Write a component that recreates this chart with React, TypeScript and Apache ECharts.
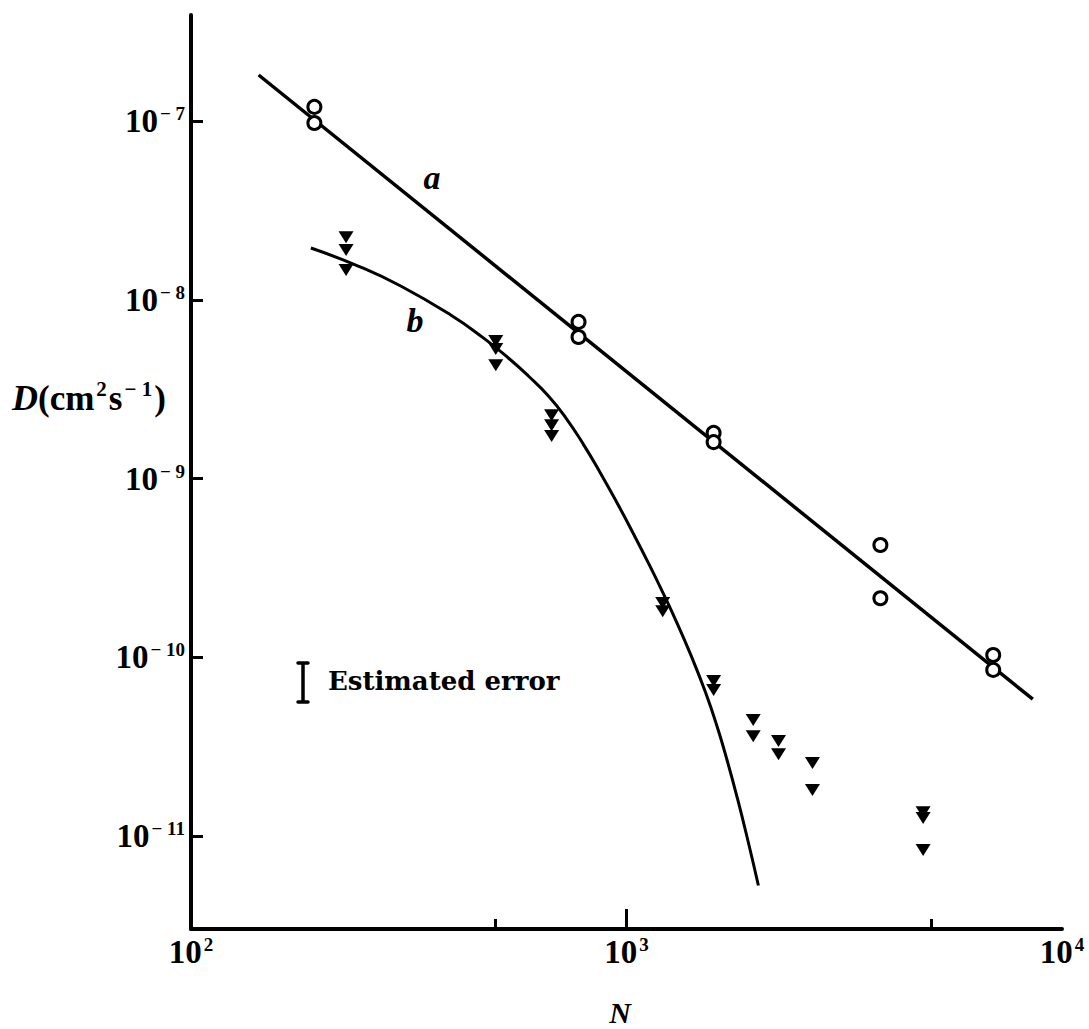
import React, { useEffect, useRef } from "react";
import * as echarts from "echarts";

// Straight line a (log-log), endpoints
const lineAN = [143, 8570];
const lineAD = [1.81e-7, 5.83e-11];

// Curve b
const curveBN = [188.5, 242.8, 303.1, 394.8, 467.5, 536.3, 596.1, 662.5, 724.8, 796.9, 871.6, 953.7, 1037.7, 1135.1, 1215.9, 1295.5, 1402.5, 1518.4, 1617.8, 1704.7, 1797.1, 1894.5, 2008.5];
const curveBD = [1.948e-8, 1.54e-8, 1.194e-8, 8.22e-9, 6.16e-9, 4.71e-9, 3.735e-9, 2.887e-9, 2.194e-9, 1.549e-9, 1.072e-9, 7.23e-10, 4.905e-10, 3.194e-10, 2.265e-10, 1.624e-10, 1.041e-10, 6.37e-11, 4.035e-11, 2.621e-11, 1.628e-11, 9.72e-12, 5.29e-12];

// Open circles (series a)
const circleN = [192, 192, 776, 776, 1585, 1585, 3828, 3828, 6951, 6951];
const circleD = [1.2e-7, 9.75e-8, 7.52e-9, 6.19e-9, 1.8e-9, 1.6e-9, 4.25e-10, 2.14e-10, 1.03e-10, 8.5e-11];

// Filled triangles (series b)
const triN = [227, 227, 227, 501, 501, 501, 673, 673, 673, 1211, 1211, 1585, 1585, 1954, 1954, 2234, 2234, 2673, 2673, 4798, 4798, 4798];
const triD = [2.24e-8, 1.9e-8, 1.47e-8, 5.88e-9, 5.3e-9, 4.31e-9, 2.26e-9, 1.99e-9, 1.73e-9, 2.01e-10, 1.81e-10, 7.36e-11, 6.56e-11, 4.46e-11, 3.62e-11, 3.4e-11, 2.87e-11, 2.56e-11, 1.81e-11, 1.36e-11, 1.26e-11, 8.36e-12];

// Axis ticks
const xLabelValues = [100, 1000, 10000];
const xMajorTicks = [1000];
const xMinorTicks = [500, 5000];
const yTickValues = [1e-7, 1e-8, 1e-9, 1e-10, 1e-11];

const X_MIN = 100;
const X_MAX = 10000;
const Y_MIN = 3.02e-12;
const Y_MAX = 3.92e-7;

const FONT = "Liberation Serif";

function zip(a: number[], b: number[]) {
  return a.map((v, i) => [v, b[i]]);
}

export default function App() {
  const ref = useRef<HTMLDivElement>(null);
  useEffect(() => {
    if (!ref.current) return;
    const chart = echarts.init(ref.current, undefined, { renderer: "svg" });
    const expRich = {
      b: { fontFamily: FONT, fontWeight: "bold", fontSize: 33, color: "#000", lineHeight: 34 },
      s: { fontFamily: FONT, fontWeight: "bold", fontSize: 19, color: "#000", verticalAlign: "top", lineHeight: 34, padding: [0, 0, 8, 2] },
    };
    chart.setOption({
      animation: false,
      backgroundColor: "#fff",
      grid: { left: 191, right: 27, top: 15, bottom: 100, containLabel: false },
      xAxis: [
        {
          type: "log",
          logBase: 10,
          min: X_MIN,
          max: X_MAX,
          axisLine: { show: true, lineStyle: { color: "#000", width: 4, cap: "round" } },
          axisTick: { show: true, inside: true, length: 20, customValues: xMajorTicks, lineStyle: { color: "#000", width: 3 } },
          axisLabel: {
            show: true,
            customValues: xLabelValues,
            margin: 6,
            formatter: (v: number) => `{b|10}{s|${Math.round(Math.log10(v))}}`,
            rich: expRich,
          },
          splitLine: { show: false },
          minorTick: { show: false },
        },
        {
          type: "log",
          logBase: 10,
          min: X_MIN,
          max: X_MAX,
          position: "bottom",
          axisLine: { show: false },
          axisTick: { show: true, inside: true, length: 10, customValues: xMinorTicks, lineStyle: { color: "#000", width: 3 } },
          axisLabel: { show: false },
          splitLine: { show: false },
        },
      ],
      yAxis: {
        type: "log",
        logBase: 10,
        min: Y_MIN,
        max: Y_MAX,
        axisLine: { show: true, lineStyle: { color: "#000", width: 4, cap: "round" } },
        axisTick: { show: true, inside: true, length: 12, customValues: yTickValues, lineStyle: { color: "#000", width: 3 } },
        axisLabel: {
          show: true,
          customValues: yTickValues,
          margin: 6,
          formatter: (v: number) => `{b|10}{s|− ${-Math.round(Math.log10(v))}}`,
          rich: expRich,
        },
        splitLine: { show: false },
      },
      series: [
        {
          type: "line",
          data: zip(lineAN, lineAD),
          showSymbol: false,
          symbol: "none",
          lineStyle: { color: "#000", width: 3.5 },
          z: 2,
        },
        {
          type: "line",
          data: zip(curveBN, curveBD),
          showSymbol: false,
          symbol: "none",
          smooth: 0.5,
          lineStyle: { color: "#000", width: 3 },
          z: 2,
        },
        {
          type: "scatter",
          data: zip(circleN, circleD),
          symbol: "circle",
          symbolSize: 13,
          itemStyle: { color: "#fff", borderColor: "#000", borderWidth: 3, opacity: 1 },
          z: 3,
        },
        {
          type: "scatter",
          data: zip(triN, triD),
          symbol: "triangle",
          symbolRotate: 180,
          symbolSize: [15, 12],
          itemStyle: { color: "#000", opacity: 1 },
          z: 3,
        },
      ],
      graphic: [
        {
          type: "text",
          left: 12,
          top: 378,
          style: {
            text: "{d|D}{t|(cm}{u|2}{t|s}{u|− 1}{t|)}",
            rich: {
              d: { fontFamily: FONT, fontStyle: "italic", fontWeight: "bold", fontSize: 36, lineHeight: 40 },
              t: { fontFamily: FONT, fontWeight: "bold", fontSize: 35, lineHeight: 40 },
              u: { fontFamily: FONT, fontWeight: "bold", fontSize: 21, lineHeight: 40, verticalAlign: "top", padding: [0, 2, 10, 2] },
            },
            fill: "#000",
          },
        },
        {
          type: "text",
          x: 432,
          y: 177,
          style: { text: "a", fontFamily: FONT, fontStyle: "italic", fontWeight: "bold", fontSize: 34, fill: "#000", align: "center", verticalAlign: "middle" },
        },
        {
          type: "text",
          x: 415,
          y: 320,
          style: { text: "b", fontFamily: FONT, fontStyle: "italic", fontWeight: "bold", fontSize: 34, fill: "#000", align: "center", verticalAlign: "middle" },
        },
        {
          type: "text",
          x: 620,
          y: 1012,
          style: { text: "N", fontFamily: FONT, fontStyle: "italic", fontWeight: "bold", fontSize: 30, fill: "#000", align: "center", verticalAlign: "middle" },
        },
        {
          type: "line",
          shape: { x1: 303, y1: 663, x2: 303, y2: 702 },
          style: { stroke: "#000", lineWidth: 3.5 },
        },
        {
          type: "line",
          shape: { x1: 298, y1: 663, x2: 308, y2: 663 },
          style: { stroke: "#000", lineWidth: 3.5, lineCap: "round" },
        },
        {
          type: "line",
          shape: { x1: 298, y1: 702, x2: 308, y2: 702 },
          style: { stroke: "#000", lineWidth: 3.5, lineCap: "round" },
        },
        {
          type: "text",
          x: 328,
          y: 681,
          style: { text: "Estimated error", fontFamily: "DejaVu Serif", fontWeight: "bold", fontSize: 26, fill: "#000", align: "left", verticalAlign: "middle" },
        },
      ],
    });
    return () => chart.dispose();
  }, []);
  return (
    <div
      ref={ref}
      style={{ position: "fixed", left: 0, top: 0, width: 1089, height: 1029, background: "#fff" }}
    />
  );
}
